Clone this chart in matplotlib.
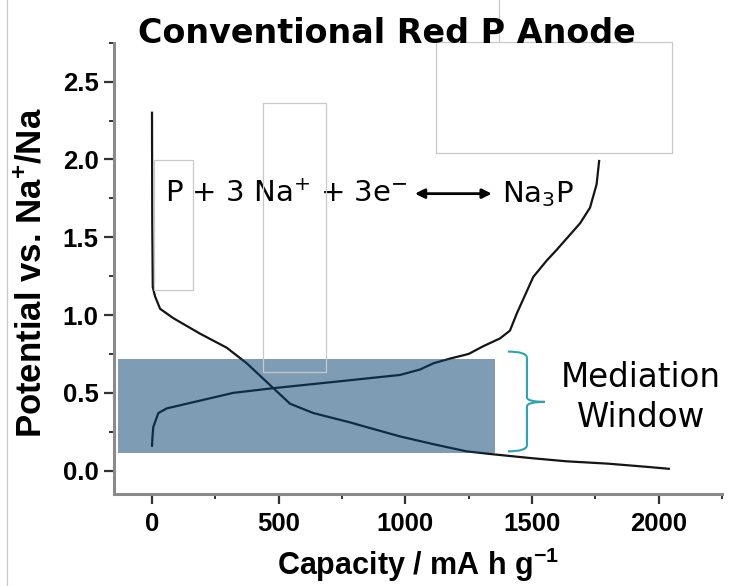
import matplotlib
matplotlib.use("Agg")
import matplotlib.pyplot as plt
from matplotlib.patches import Rectangle, PathPatch
from matplotlib.path import Path
from matplotlib.ticker import MultipleLocator

# ---------------- data ----------------
discharge_capacity = [0, 1, 3, 12, 32, 84, 190, 295, 374, 479, 545, 637, 782, 847,
                      979, 1111, 1242, 1347, 1500, 1637, 1800, 1950, 2040]
discharge_potential = [2.30, 1.60, 1.18, 1.12, 1.04, 0.98, 0.88, 0.79, 0.69, 0.53, 0.43,
                       0.37, 0.31, 0.28, 0.22, 0.17, 0.124, 0.105, 0.08, 0.06, 0.045,
                       0.025, 0.012]

charge_capacity = [0, 2, 5, 25, 58, 137, 321, 479, 716, 979, 1058, 1111, 1176, 1250,
                   1308, 1374, 1413, 1440, 1505, 1558, 1598, 1690, 1729, 1755, 1765]
charge_potential = [0.16, 0.22, 0.28, 0.37, 0.40, 0.43, 0.50, 0.53, 0.57, 0.615, 0.65,
                    0.69, 0.72, 0.75, 0.80, 0.85, 0.90, 1.01, 1.245, 1.35, 1.42, 1.59,
                    1.69, 1.84, 1.99]

window_capacity = [-133, 1354]
window_potential = [0.113, 0.716]

x_ticks = [0, 500, 1000, 1500, 2000]
y_ticks = [0.0, 0.5, 1.0, 1.5, 2.0, 2.5]
x_limits = [-150, 2250]
y_limits = [-0.15, 2.75]

title = "Conventional Red P Anode"
x_label = r"Capacity / mA h g$^{\mathregular{-1}}$"
y_label = r"Potential vs. Na$^{\mathregular{+}}$/Na"
reaction_left = r"P + 3 Na$^{+}$ + 3e$^{-}$"
reaction_right = r"Na$_{3}$P"
window_label = "Mediation\nWindow"

# ---------------- figure ----------------
W, H = 729, 586
fig = plt.figure(figsize=(W / 100, H / 100), dpi=100)
ax = fig.add_axes([114 / W, 1 - 494 / H, (722 - 114) / W, (494 - 42.7) / H])

ax.plot(discharge_capacity, discharge_potential, color="#151515", lw=1.6, zorder=2)
ax.plot(charge_capacity, charge_potential, color="#151515", lw=1.6, zorder=2)

ax.add_patch(Rectangle((window_capacity[0], window_potential[0]),
                       window_capacity[1] - window_capacity[0],
                       window_potential[1] - window_potential[0],
                       facecolor="#094270", alpha=0.52, edgecolor="none", zorder=3))

ax.set_xlim(*x_limits)
ax.set_ylim(*y_limits)
ax.set_xticks(x_ticks)
ax.set_yticks(y_ticks)
ax.set_yticklabels([f"{v:.1f}" for v in y_ticks])
ax.xaxis.set_minor_locator(MultipleLocator(250))
ax.yaxis.set_minor_locator(MultipleLocator(0.25))

for s in ["top", "right"]:
    ax.spines[s].set_visible(False)
for s in ["left", "bottom"]:
    ax.spines[s].set_color("#8a8a8a")
    ax.spines[s].set_linewidth(2.2)

ax.tick_params(which="major", direction="out", length=7, width=1.6, color="#333333",
               labelsize=18.5, pad=4)
ax.tick_params(which="minor", direction="out", length=3.5, width=1.4, color="#333333")
for lab in ax.get_xticklabels() + ax.get_yticklabels():
    lab.set_fontfamily("Liberation Sans")
    lab.set_fontweight("bold")
ax.tick_params(axis="x", pad=6)

ax.set_xlabel(x_label, family="Liberation Sans", weight="bold", fontsize=22)
ax.set_ylabel(y_label, family="Liberation Sans", weight="bold", fontsize=25)
ax.xaxis.set_label_coords(0.5, -0.115)
ax.yaxis.set_label_coords(-0.108, 0.49)

fig.text(387 / W, 1 - 43 / H, title, ha="center", va="baseline",
         family="DejaVu Sans", weight="bold", fontsize=24)

# reaction annotation
ax.text(1007, 1.726, reaction_left, ha="right", va="baseline",
        family="DejaVu Sans", fontsize=21, zorder=5)
ax.text(1381, 1.726, reaction_right, ha="left", va="baseline",
        family="DejaVu Sans", fontsize=21, zorder=5)
ax.annotate("", xy=(1341, 1.78), xytext=(1038, 1.78),
            arrowprops=dict(arrowstyle="<|-|>", color="black", lw=2,
                            mutation_scale=14, shrinkA=0, shrinkB=0))

# brace
bx0, bx1, bx2 = 1405, 1480, 1551
bt, bm, bb = 0.765, 0.442, 0.124
verts = [(bx0, bt), (bx1, bt), (bx1, bt - 0.04),
         (bx1, bm + 0.03),
         (bx1, bm), (bx2, bm),
         (bx1, bm), (bx1, bm - 0.03),
         (bx1, bb + 0.04),
         (bx1, bb), (bx0, bb)]
codes = [Path.MOVETO, Path.CURVE3, Path.CURVE3,
         Path.LINETO,
         Path.CURVE3, Path.CURVE3,
         Path.CURVE3, Path.CURVE3,
         Path.LINETO,
         Path.CURVE3, Path.CURVE3]
ax.add_patch(PathPatch(Path(verts, codes), facecolor="none", edgecolor="#2ba3b5",
                       lw=1.5, clip_on=False, zorder=4))
ax.text(1930, 0.47, window_label, ha="center", va="center", family="DejaVu Sans",
        fontsize=23.5, linespacing=1.25, zorder=5)

# faint outline boxes visible in the reference (pixel layout)
decor_boxes = [(436, 42, 672, 153), (263, 103, 326, 372), (154, 160, 193, 290)]
for x0, y0, x1, y1 in decor_boxes:
    fig.patches.append(Rectangle((x0 / W, 1 - y1 / H), (x1 - x0) / W, (y1 - y0) / H,
                                 transform=fig.transFigure, fill=False,
                                 edgecolor="#c8c8c8", lw=0.9, zorder=0))
fig.add_artist(plt.Line2D([7 / W, 7 / W], [0, 1], transform=fig.transFigure,
                          color="#c8c8c8", lw=0.9))
fig.add_artist(plt.Line2D([499 / W, 499 / W], [1 - 42 / H, 1], transform=fig.transFigure,
                          color="#c8c8c8", lw=0.9))

fig.savefig("out.png", dpi=100)
